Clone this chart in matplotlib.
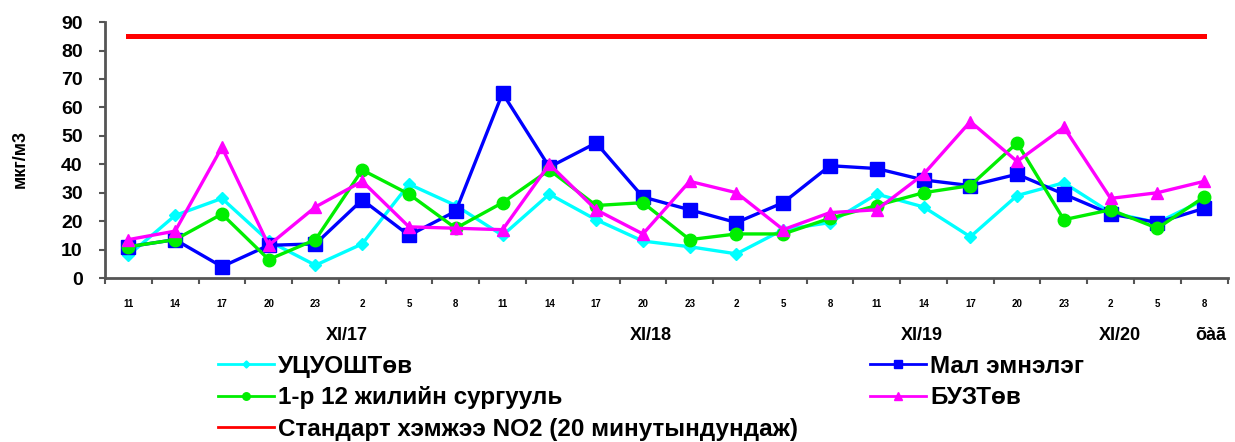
import matplotlib.pyplot as plt
import numpy as np

# measurement hours over four days
hours = ['11', '14', '17', '20', '23', '2', '5', '8',
         '11', '14', '17', '20', '23', '2', '5', '8',
         '11', '14', '17', '20', '23', '2', '5', '8']

# NO2, мкг/м3, per station
ucuosh = [8, 22, 28, 13, 4.5, 12, 33, 25.5, 15, 29.5, 20.5, 13, 11, 8.5, 17, 19.5,
          29.5, 25, 14.5, 29, 33.5, 23, 19.5, 27.5]
mal_emnelg = [11, 13.5, 4, 11.5, 12, 27.5, 15, 23.5, 65, 39, 47.5, 28.5, 24, 19.5, 26.5, 39.5,
              38.5, 34.5, 32.5, 36.5, 29.5, 22.5, 19.5, 24.5]
school12 = [11, 13.5, 22.5, 6.5, 13.5, 38, 29.5, 17.5, 26.5, 38, 25.5, 26.5, 13.5, 15.5, 15.5, 21,
            25.5, 30, 32.5, 47.5, 20.5, 24, 17.5, 28.5]
buzt = [13.5, 16.5, 46, 11.5, 25, 34, 18, 17.5, 17, 40, 24, 15.5, 34, 30, 17, 23,
        24, 36.5, 55, 41, 53, 28, 30, 34]
standard = [85] * len(hours)

day_labels = ['XI/17', 'XI/18', 'XI/19', 'XI/20', 'õàã']
day_pos = [4.68, 11.17, 16.97, 21.2, 23.14]

plt.rcParams['font.family'] = ['Liberation Sans', 'DejaVu Sans']

fig = plt.figure(figsize=(12.35, 4.42), dpi=100)
ax = fig.add_axes([0.085, 0.371, 0.909, 0.579])

x = np.arange(len(hours))
l_c, = ax.plot(x, ucuosh, color='#00ffff', lw=2.4, marker='D', ms=6, label='УЦУОШТөв')
l_b, = ax.plot(x, mal_emnelg, color='#0000ff', lw=2.4, marker='s', ms=10, label='Мал эмнэлэг')
l_g, = ax.plot(x, school12, color='#00ee00', lw=2.4, marker='o', ms=9, label='1-р 12 жилийн сургууль')
l_m, = ax.plot(x, buzt, color='#ff00ff', lw=2.4, marker='^', ms=9, label='БУЗТөв')
l_r, = ax.plot(x, standard, color='#ff0000', lw=3.6, label='Стандарт хэмжээ NO2 (20 минутындундаж)')

ax.set_xlim(-0.5, len(hours) - 0.5)
ax.set_ylim(0, 90)
ax.set_yticks(range(0, 91, 10))
ax.tick_params(axis='y', labelsize=14, width=1.5, length=4, color='#555555', pad=12)
for lab in ax.get_yticklabels():
    lab.set_fontweight('bold')

# tick marks between categories, labels at the centres
ax.set_xticks(np.arange(len(hours) + 1) - 0.5)
ax.set_xticklabels([])
ax.tick_params(axis='x', width=1.5, length=4, color='#555555')
ax.set_xticks(x, minor=True)
ax.set_xticklabels(hours, minor=True, fontsize=7, fontweight='bold')
ax.tick_params(axis='x', which='minor', length=0, pad=15)

for s in ['top', 'right']:
    ax.spines[s].set_visible(False)
for s in ['left', 'bottom']:
    ax.spines[s].set_color('#555555')
    ax.spines[s].set_linewidth(2)

for lab, p in zip(day_labels, day_pos):
    ax.text(p, -0.223, lab, transform=ax.get_xaxis_transform(), ha='center', va='center',
            fontsize=13, fontweight='bold')

fig.text(0.016, 0.64, 'мкг/м3', rotation=90, ha='center', va='center', fontsize=13, fontweight='bold')

leg = fig.legend(handles=[l_c, l_g, l_r, l_b, l_m], ncol=2, loc='upper left',
                 bbox_to_anchor=(0.1765, 0.197), frameon=False, fontsize=17.5,
                 handlelength=2.3, handletextpad=0.15, columnspacing=3.0, labelspacing=0.35,
                 borderpad=0, borderaxespad=0, markerscale=0.6)
for t in leg.get_texts():
    t.set_fontweight('bold')
for h in leg.legend_handles:
    h.set_linewidth(2)

fig.savefig('out.png', dpi=100)
